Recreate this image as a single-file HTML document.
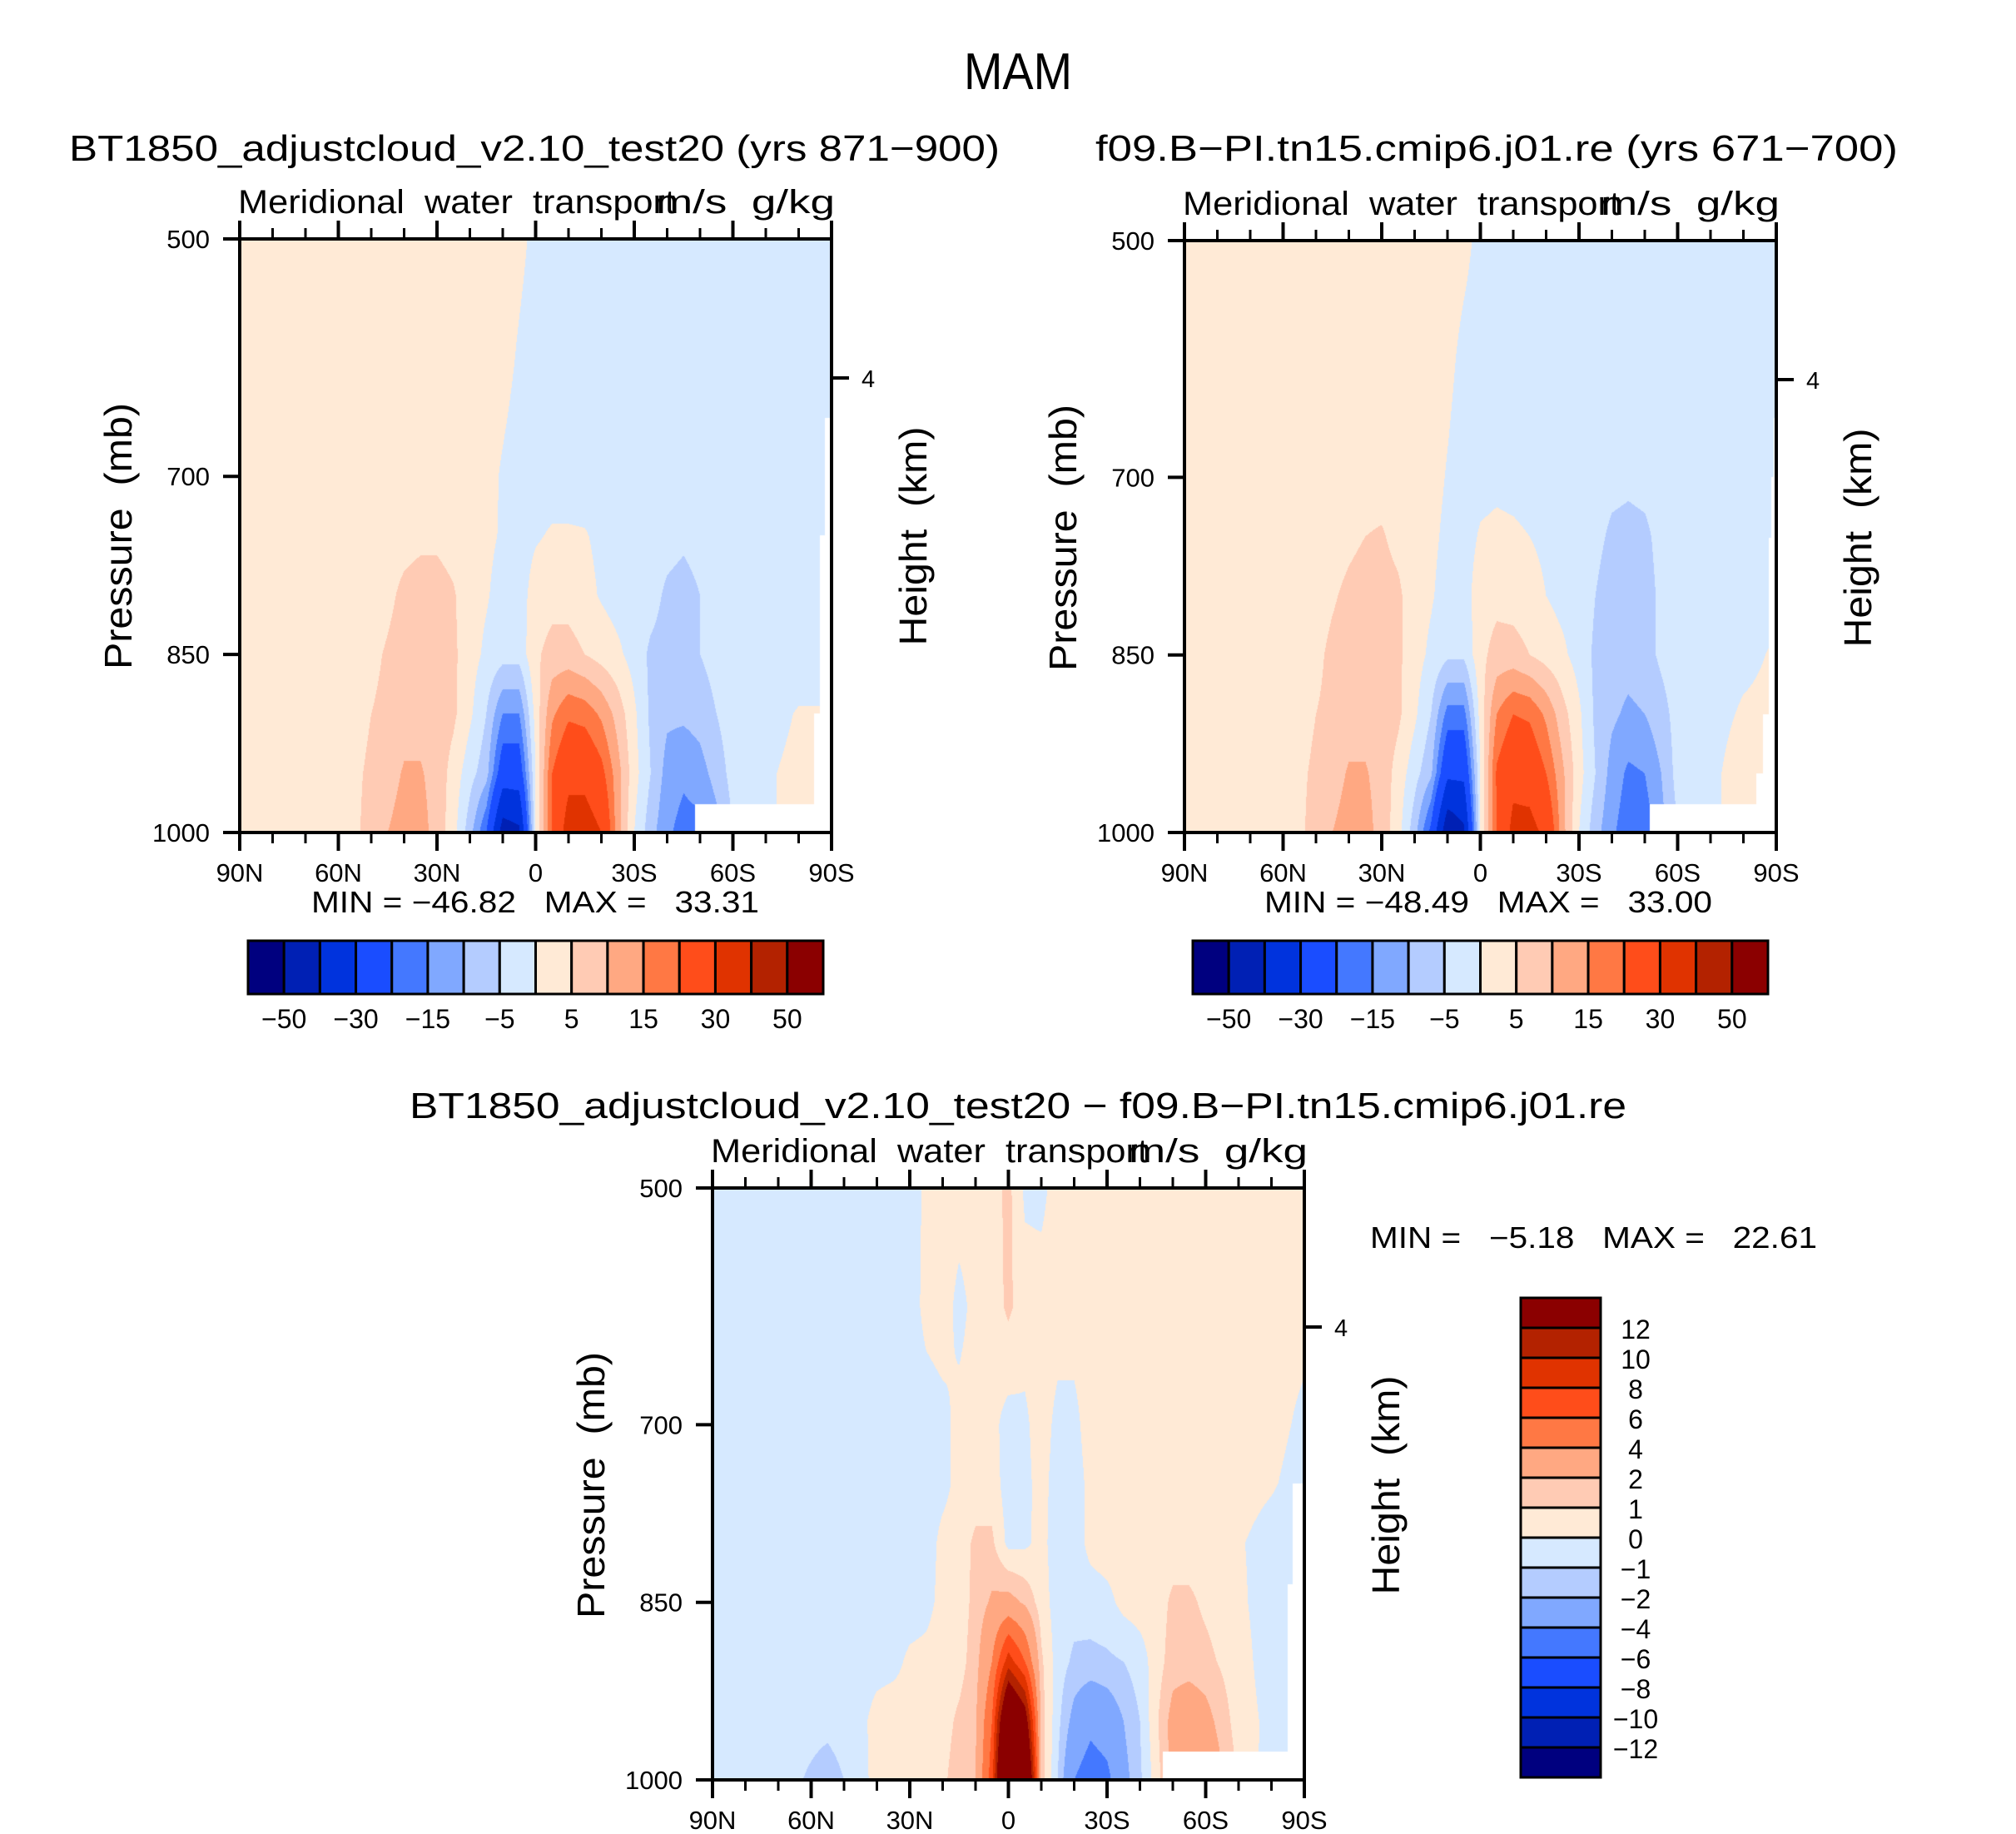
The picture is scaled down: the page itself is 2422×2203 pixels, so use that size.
<!DOCTYPE html>
<html><head><meta charset="utf-8">
<style>
html,body{margin:0;padding:0;background:#fff;}
#root{position:relative;width:2422px;height:2203px;overflow:hidden;background:#fff;font-family:"Liberation Sans",sans-serif;}
canvas{position:absolute;}
svg{position:absolute;left:0;top:0;}
svg text{white-space:pre;}
</style></head>
<body>
<div id="root">
<canvas id="c1" width="711" height="713" style="left:288px;top:287px"></canvas>
<canvas id="c2" width="711" height="711" style="left:1423px;top:289px"></canvas>
<canvas id="c3" width="711" height="711" style="left:856px;top:1427px"></canvas>
<svg id="ov" width="2422" height="2203" viewBox="0 0 2422 2203" xml:space="preserve">
<text x="1223" y="107" font-size="62" text-anchor="middle" textLength="130" lengthAdjust="spacingAndGlyphs">MAM</text>
<text x="83" y="193" font-size="44" textLength="1118" lengthAdjust="spacingAndGlyphs">BT1850_adjustcloud_v2.10_test20 (yrs 871−900)</text>
<text x="1316" y="193" font-size="44" textLength="964" lengthAdjust="spacingAndGlyphs">f09.B−PI.tn15.cmip6.j01.re (yrs 671−700)</text>
<text x="492" y="1343" font-size="44" textLength="1462" lengthAdjust="spacingAndGlyphs">BT1850_adjustcloud_v2.10_test20 − f09.B−PI.tn15.cmip6.j01.re</text>
<text x="374" y="1096" font-size="36" textLength="538" lengthAdjust="spacingAndGlyphs">MIN = −46.82   MAX =   33.31</text>
<text x="1519" y="1096" font-size="36" textLength="538" lengthAdjust="spacingAndGlyphs">MIN = −48.49   MAX =   33.00</text>
<text x="1646" y="1499" font-size="36" textLength="537" lengthAdjust="spacingAndGlyphs">MIN =   −5.18   MAX =   22.61</text>
</svg>
</div>
<script>
// ---- data ----
const lats = [90,70,55,50,45,40,35,30,25,20,15,10,5,0,-5,-10,-15,-20,-25,-30,-35,-40,-45,-50,-55,-60,-70,-80,-90];
const plevs = [500,600,700,750,800,850,900,950,1000];
const field1 = [
[2,2,2,2,2,2,2,2,2,2,2,2,1,-1,-2,-2,-2,-2,-2,-2,-2,-2,-2,-2,-2,-2,-2,-2,-2],
[2,2,2,2,2,2,2,2,2,2,2,1.5,-0.5,-2,-2,-2,-2,-2,-2,-2,-2,-2,-2,-2,-2,-2,-2,-2,-2],
[2,2,2,2,2,2,2.5,2.5,2,2,1.5,-0.5,-2,-2,-2,-2,-2,-2,-2,-2,-2,-2.5,-3,-2.5,-2,-2,-2,-2,-2],
[2,2,2,2,3,3.5,4,4,3,2,1,-0.5,-2,-0.5,0.5,0.5,0.3,-1,-2,-2,-2,-3,-4,-3,-2,-2,-2,-2,-2],
[2,2,2,2.5,4,6,7,7,5.5,2,0.5,-2,-2,2,3,3,1.5,-0.5,-2,-2,-3,-6,-7,-5,-3,-2,-2,-2,-2],
[2,2,3,4,5.5,7,7,7,6,2,-1,-3,-3,4,7,7,5,3,1,-2,-6,-7,-7,-5,-3,-2,-2,-2,-2],
[2,2,3,5,6,8,8,8,6,1,-5,-15,-15,2,14,19,18,14,8,1,-6,-9,-9,-8,-5,-2,-1.5,0.3,0.3],
[2,2,4,6,8,10.5,10.5,8,3,-3,-8,-25,-25,0,20,27,27,22,12,2,-5,-12,-14,-12,-8,-3,-0.5,1,1],
[2,2,4,7,10,12,12,8,2,-8,-20,-45,-42,0,20,35,35,30,12,0,-8,-14,-17,-17,-12,-5,-1,2,2]
];
const field2 = [
[2,2,2,2,2,2,2,2,2,2,2,2,1,-1,-2,-2,-2,-2,-2,-2,-2,-2,-2,-2,-2,-2,-2,-2,-2],
[2,2,2,2,2,2,2,2,2,2,2,1,-1,-2,-2,-2,-2,-2,-2,-2,-2,-2,-2,-2,-2,-2,-2,-2,-2],
[2,2,2,2,2,2.5,3,3,2.5,2,1.5,-0.3,-2,-1.5,-1,-1.5,-2,-2,-2,-2,-2.5,-3.5,-4,-3.5,-2.5,-2,-2,-2,-2],
[2,2,2,2,3,4,5,5.5,3.5,2,1,-1,-2,0.5,1,0.8,0,-1,-2,-2,-3.5,-6,-6.5,-6,-3.5,-2,-2,-2,-2],
[2,2,2,3,4.5,6,7,7,6,2,0.5,-2,-2,2.5,3.5,3,2,0,-1.5,-2,-5,-8,-8,-7,-4,-2,-2,-1.5,-1],
[2,2,3,4,6,7,7,7,6,2,-1,-4,-4,3.5,7,7,5,3,1,-2,-6,-8,-8,-7,-4,-2,-2,-1,0.5],
[2,2,3,5,6,8,8,8,6,1,-5,-17,-17,2,15,20,19,14,7,1,-6,-9,-11,-10,-7,-3,-1.5,0.5,1],
[2,2,4,6,8,10.5,10.5,8,3,-3,-9,-28,-28,0,21,27,26,20,11,2,-5,-12,-16,-15,-10,-3,-1,2,2],
[2,2,4,7,10,12,12,8,2,-8,-22,-48,-42,0,20,33,33,28,12,0,-8,-14,-18,-18,-12,-5,-1,2,2]
];
const field3 = [
[-0.5,-0.5,-0.5,-0.5,-0.5,-0.5,-0.5,-0.5,0.2,0.5,0.5,0.5,0.5,1.3,-0.2,-0.3,0.5,0.5,0.5,0.5,0.5,0.5,0.5,0.5,0.5,0.5,0.5,0.5,0.5],
[-0.5,-0.5,-0.5,-0.5,-0.5,-0.5,-0.5,-0.5,0.3,0.5,-0.3,0.3,0.5,1.2,0.5,0.5,0.5,0.5,0.5,0.5,0.5,0.5,0.5,0.5,0.5,0.5,0.5,0.4,0.3],
[-0.5,-0.5,-0.5,-0.5,-0.5,-0.5,-0.5,-0.5,-0.5,-0.3,0.3,0.4,0.3,-0.4,-0.2,0.5,-0.3,-0.3,0.5,0.5,0.5,0.5,0.5,0.5,0.5,0.5,0.5,0.3,-0.2],
[-0.5,-0.5,-0.5,-0.5,-0.5,-0.5,-0.5,-0.5,-0.5,-0.3,0.3,0.5,0.5,-0.5,-0.3,0.4,-0.5,-0.5,0.3,0.5,0.5,0.5,0.5,0.5,0.5,0.5,0.4,0.1,-0.4],
[-0.5,-0.5,-0.5,-0.5,-0.5,-0.5,-0.5,-0.5,-0.5,0.3,0.5,1.2,1.2,-0.3,-0.2,0.3,-0.5,-0.5,0.3,0.5,0.5,0.5,0.5,0.5,0.5,0.5,0.1,-0.4,-0.5],
[-0.5,-0.5,-0.5,-0.5,-0.5,-0.5,-0.5,-0.5,-0.3,0.3,0.5,1.3,2.2,2.5,1.8,0.5,-0.5,-0.6,-0.5,-0.3,0.3,0.5,0.5,1.2,1.2,0.8,0.2,-0.5,-0.5],
[-0.5,-0.5,-0.5,-0.5,-0.5,-0.4,-0.3,0.2,0.3,0.5,0.6,1.5,4,9,6,1.2,-0.5,-1.2,-1.3,-1.2,-1,-0.5,0.5,1.5,1.5,1.3,0.4,-0.5,-0.5],
[-0.5,-0.5,-0.7,-0.5,-0.3,0.4,0.6,0.4,0.3,0.6,1.2,1.8,6,18,14,1.5,-0.7,-2.5,-3.5,-3,-2,-1,0.8,2.5,3,2.5,0.5,-0.3,0.3],
[-0.5,-0.5,-1.5,-1,-0.3,0.3,0.5,0.4,0.2,0.8,1.5,2,7,24,20,1.5,-1,-4,-5,-4.5,-2.5,-1.2,0.5,2.5,3.5,3.5,0.8,-0.5,0.3]
];
const levels1 = [-50,-40,-30,-20,-15,-10,-5,0,5,10,15,20,30,40,50];
const levels3 = [-12,-10,-8,-6,-4,-2,-1,0,1,2,4,6,8,10,12];
const palette = ["#00007f","#0020b4","#0033dd","#1a4dff","#4478ff","#80a8ff","#b4ccff","#d6e9ff","#ffead6","#ffcbb4","#ffa882","#ff7844","#ff4d1a","#e03300","#b32200","#8b0000"];
const cbLabels1 = ["−50","−30","−15","−5","5","15","30","50"];
const cbLabels3 = ["12","10","8","6","4","2","1","0","−1","−2","−4","−6","−8","−10","−12"];
const xTickLabels = ["90N","60N","30N","0","30S","60S","90S"];
const yTickValues = [500,700,850,1000];
// missing-data masks: [latFrom, latTo, pressureFrom]
const mask1 = [[-48.4,-90,976],[-84.7,-90,900],[-86.5,-90,750],[-88,-90,651]];
const mask2 = [[-51.5,-90,976],[-84,-90,950],[-86,-90,900],[-87.6,-90,751],[-88.5,-90,700],[-89.3,-90,650]];
const mask3 = [[-47,-90,976],[-85,-90,835],[-86.5,-90,750]];

// ---- rendering ----
function hexRGB(h){return [parseInt(h.slice(1,3),16),parseInt(h.slice(3,5),16),parseInt(h.slice(5,7),16)];}
const rgbs = palette.map(hexRGB);
function locate(arr, v, desc){
  for(let i=0;i<arr.length-1;i++){
    const a=arr[i], b=arr[i+1];
    if(desc ? (v<=a && v>=b) : (v>=a && v<=b)) return [i,(v-a)/(b-a)];
  }
  return [arr.length-2,1];
}
function drawField(id, field, lv, masks){
  const c=document.getElementById(id), W=c.width, H=c.height, ctx=c.getContext('2d');
  const img=ctx.createImageData(W,H), d=img.data;
  const cols=[]; for(let x=0;x<W;x++){const lat=90-(x+0.5)/W*180; cols.push([lat].concat(locate(lats,lat,true)));}
  for(let y=0;y<H;y++){
    const p=500+(y+0.5)/H*500; const [j,ty]=locate(plevs,p,false);
    const r0=field[j], r1=field[j+1];
    for(let x=0;x<W;x++){
      const [lat,i,tx]=cols[x];
      let masked=false;
      for(const m of masks){ if(lat<=m[0] && lat>=m[1] && p>=m[2]) {masked=true;break;} }
      const o=(y*W+x)*4;
      if(masked){d[o]=d[o+1]=d[o+2]=255;d[o+3]=255;continue;}
      const v=(r0[i]*(1-tx)+r0[i+1]*tx)*(1-ty)+(r1[i]*(1-tx)+r1[i+1]*tx)*ty;
      let k=0; while(k<lv.length && v>=lv[k]) k++;
      const cc=rgbs[k]; d[o]=cc[0];d[o+1]=cc[1];d[o+2]=cc[2];d[o+3]=255;
    }
  }
  ctx.putImageData(img,0,0);
}
drawField('c1',field1,levels1,mask1);
drawField('c2',field2,levels1,mask2);
drawField('c3',field3,levels3,mask3);

const NS="http://www.w3.org/2000/svg";
const svg=document.getElementById('ov');
function mk(tag, attrs){const e=document.createElementNS(NS,tag);for(const k in attrs)e.setAttribute(k,attrs[k]);svg.appendChild(e);return e;}

function drawAxes(prefix, ox, oy, w, h){
  const xOf=lat=>ox+(90-lat)/180*w;
  const yOf=p=>oy+(p-500)/500*h;
  const g=document.createElementNS(NS,'g'); svg.appendChild(g);
  
  
  const fr=mk('rect',{x:ox,y:oy,width:w,height:h,fill:'none',stroke:'#000','stroke-width':4});
  
  
  for(let lat=90;lat>=-90;lat-=10){
    const major=(lat%30===0); const len=major?22:13; const x=xOf(lat);
    const t1=mk('line',{x1:x,x2:x,y1:oy+h,y2:oy+h+len,stroke:'#000','stroke-width':major?4:3});
    
    
    const t2=mk('line',{x1:x,x2:x,y1:oy,y2:oy-len,stroke:'#000','stroke-width':major?4:3});
    
    
  }
  xTickLabels.forEach((s,i)=>{
    const t=mk('text',{x:xOf(90-30*i),y:oy+h+59,'font-size':31,'text-anchor':'middle'}); t.textContent=s;
    
    
  });
  yTickValues.forEach(p=>{
    const y=yOf(p);
    const tk=mk('line',{x1:ox-20,x2:ox,y1:y,y2:y,stroke:'#000','stroke-width':4});
    
    
    const t=mk('text',{x:ox-36,y:y+11,'font-size':31,'text-anchor':'end'}); t.textContent=String(p);
    
    
  });
  const hy=oy+167;
  const rt=mk('line',{x1:ox+w,x2:ox+w+21,y1:hy,y2:hy,stroke:'#000','stroke-width':4});
  
  
  const rl=mk('text',{x:ox+w+36,y:hy+11,'font-size':29}); rl.textContent='4';
  
  
  const yl=mk('text',{x:0,y:0,'font-size':46,'text-anchor':'middle',textLength:320,lengthAdjust:'spacingAndGlyphs',transform:`translate(${ox-130},${oy+357}) rotate(-90)`}); yl.textContent='Pressure  (mb)';
  
  
  const hl=mk('text',{x:0,y:0,'font-size':46,'text-anchor':'middle',textLength:263,lengthAdjust:'spacingAndGlyphs',transform:`translate(${ox+w+114},${oy+357}) rotate(-90)`}); hl.textContent='Height  (km)';
  
  
  const st=mk('text',{x:ox-2,y:oy-31,'font-size':40,textLength:525,lengthAdjust:'spacingAndGlyphs'}); st.textContent='Meridional  water  transport';
  
  
  const un=mk('text',{x:ox+w+4,y:oy-31,'font-size':40,'text-anchor':'end',textLength:215,lengthAdjust:'spacingAndGlyphs'}); un.textContent='m/s  g/kg';
  
  
}
drawAxes('panel1',288,287,711,713);
drawAxes('panel2',1423,289,711,711);
drawAxes('diff',856,1427,711,711);

function hColorbar(prefix, x0, y0, w, h){
  const bw=w/palette.length;
  palette.forEach((c,i)=>{
    const r=mk('rect',{x:x0+i*bw,y:y0,width:bw,height:h,fill:c,stroke:'#000','stroke-width':3});
    
    
  });
  cbLabels1.forEach((s,i)=>{
    const t=mk('text',{x:x0+(1+2*i)*bw,y:y0+h+41,'font-size':32,'text-anchor':'middle'}); t.textContent=s;
    
    
  });
}
hColorbar('panel1',298,1130,691,64);
hColorbar('panel2',1433,1130,691,64);

function vColorbar(prefix, x0, y0, w, h){
  const bh=h/palette.length;
  palette.slice().reverse().forEach((c,i)=>{
    const r=mk('rect',{x:x0,y:y0+i*bh,width:w,height:bh,fill:c,stroke:'#000','stroke-width':3});
    
    
  });
  cbLabels3.forEach((s,i)=>{
    const t=mk('text',{x:x0+w+42,y:y0+(i+1)*bh+13,'font-size':32,'text-anchor':'middle'}); t.textContent=s;
    
    
  });
}
vColorbar('diff',1827,1559,96,576);
</script>
</body></html>
